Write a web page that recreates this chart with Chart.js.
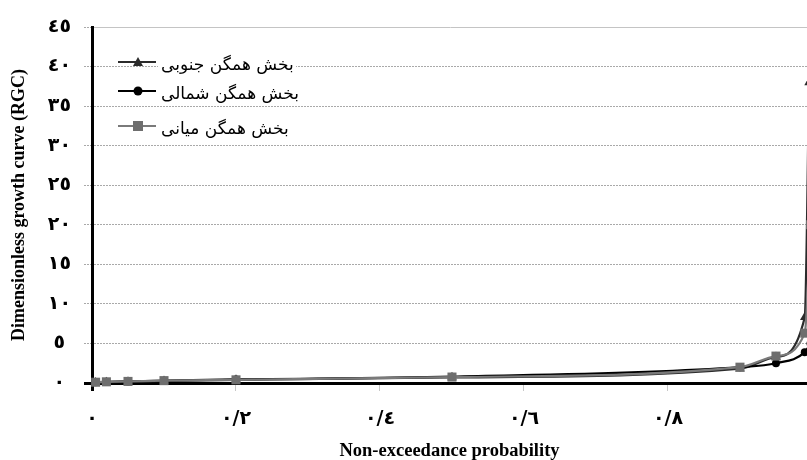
<!DOCTYPE html>
<html>
<head>
<meta charset="utf-8">
<script src="https://cdn.jsdelivr.net/npm/chart.js@4.4.1/dist/chart.umd.min.js"></script>
<style>
  html, body { margin: 0; padding: 0; background: #fff; overflow: hidden; }
  #wrap { width: 807px; height: 460px; }
</style>
</head>
<body>
<div id="wrap"><canvas id="c" width="807" height="460"></canvas></div>
<script>
// Regional growth curves (RGC) for the three homogeneous regions
const seriesNames = ['بخش همگن جنوبی', 'بخش همگن شمالی', 'بخش همگن میانی'];

const southProb = [0.005, 0.02, 0.05, 0.1, 0.2, 0.5, 0.9, 0.95, 0.99, 0.996];
const southRGC  = [0.05, 0.1, 0.15, 0.25, 0.4, 0.7, 1.8, 3.3, 8.3, 38];

const northProb = [0.005, 0.02, 0.05, 0.1, 0.2, 0.5, 0.9, 0.95, 0.99, 0.998];
const northRGC  = [0.1, 0.15, 0.2, 0.3, 0.45, 0.8, 2.0, 2.5, 3.9, 5];

const middleProb = [0.005, 0.02, 0.05, 0.1, 0.2, 0.5, 0.9, 0.95, 0.99, 0.998];
const middleRGC  = [0.1, 0.15, 0.2, 0.3, 0.4, 0.75, 2.0, 3.4, 6.3, 20];

const xTickValues = [0, 0.2, 0.4, 0.6, 0.8];
const yTickValues = [0, 5, 10, 15, 20, 25, 30, 35, 40, 45];
const xVisibleMax = 0.9931;   // the frame ends just short of p = 1

const xTitle = 'Non-exceedance probability';
const yTitle = 'Dimensionless growth curve (RGC)';

const ARABIC_DIGITS = '٠١٢٣٤٥٦٧٨٩';
const toArabic = s => String(s).replace(/[0-9]/g, d => ARABIC_DIGITS[d]);
const probLabel = v => v === 0 ? '٠' : toArabic((Math.round(v * 10) / 10).toFixed(1)).replace('.', '/');

const pts = (xs, ys) => xs.map((x, i) => ({ x, y: ys[i] }));

// Inset legend: line sample with marker, then the Persian label
const insetLegend = {
  id: 'insetLegend',
  afterDatasetsDraw(chart) {
    const ctx = chart.ctx;
    const rows = [62, 91, 126];
    ctx.save();
    seriesNames.forEach((name, i) => {
      const ds = chart.data.datasets.find(d => d.label === name);
      const y = rows[i];
      ctx.fillStyle = '#fff';
      ctx.fillRect(158, y - 10, 138, 20);
      ctx.strokeStyle = ds.borderColor;
      ctx.lineWidth = 2;
      ctx.beginPath();
      ctx.moveTo(118, y);
      ctx.lineTo(156, y);
      ctx.stroke();
      ctx.fillStyle = ds.pointBackgroundColor;
      const cx = 138;
      ctx.beginPath();
      if (ds.pointStyle === 'triangle') {
        ctx.moveTo(cx - 5, y + 4);
        ctx.lineTo(cx + 5, y + 4);
        ctx.lineTo(cx, y - 5);
        ctx.closePath();
      } else if (ds.pointStyle === 'rect') {
        ctx.rect(cx - 5, y - 5, 10, 10);
      } else {
        ctx.arc(cx, y, 4.5, 0, Math.PI * 2);
      }
      ctx.fill();
      ctx.fillStyle = '#000';
      ctx.font = '17px "DejaVu Sans"';
      ctx.textBaseline = 'middle';
      ctx.direction = 'rtl';
      ctx.textAlign = 'right';
      const w = ctx.measureText(name).width;
      ctx.fillText(name, 161 + w, y + 4);
    });
    ctx.restore();
  }
};

const common = {
  borderWidth: 2.2,
  cubicInterpolationMode: 'monotone',
  pointBorderWidth: 0,
  clip: false
};

new Chart(document.getElementById('c'), {
  type: 'line',
  data: {
    datasets: [
      Object.assign({
        label: seriesNames[2],
        data: pts(middleProb, middleRGC),
        borderColor: '#7a7a7a',
        backgroundColor: '#6e6e6e',
        pointBackgroundColor: '#6e6e6e',
        pointBorderColor: '#6e6e6e',
        pointStyle: 'rect',
        pointRadius: 6.4
      }, common),
      Object.assign({
        label: seriesNames[1],
        data: pts(northProb, northRGC),
        borderColor: '#000',
        backgroundColor: '#000',
        pointBackgroundColor: '#000',
        pointBorderColor: '#000',
        pointStyle: 'circle',
        pointRadius: 4
      }, common),
      Object.assign({
        label: seriesNames[0],
        data: pts(southProb, southRGC),
        borderColor: '#2b2b2b',
        backgroundColor: '#2b2b2b',
        pointBackgroundColor: '#2b2b2b',
        pointBorderColor: '#2b2b2b',
        pointStyle: 'triangle',
        pointRadius: 5.5
      }, common)
    ]
  },
  options: {
    responsive: false,
    animation: false,
    layout: { autoPadding: false, padding: { left: 0, right: 0, top: 27, bottom: 0 } },
    plugins: { legend: { display: false }, tooltip: { enabled: false } },
    scales: {
      x: {
        type: 'linear',
        min: 0, max: xVisibleMax,
        afterBuildTicks: s => { s.ticks = xTickValues.map(v => ({ value: v })); },
        afterFit: s => { s.height = 77; },
        ticks: {
          callback: v => probLabel(v),
          font: { family: '"DejaVu Sans"', size: 19, weight: 'bold' },
          color: '#000',
          padding: 17,
          maxRotation: 0
        },
        grid: {
          drawOnChartArea: false,
          drawTicks: true,
          tickLength: 8,
          tickColor: c => c.tick && c.tick.value === 0 ? '#000' : '#c8c8c8',
          tickWidth: c => c.tick && c.tick.value === 0 ? 3 : 1
        },
        border: { display: true, color: '#000', width: 3 },
        title: {
          display: true,
          text: xTitle,
          color: '#000',
          font: { family: '"Liberation Serif"', size: 18.5, weight: 'bold', lineHeight: 1 },
          padding: 0
        }
      },
      y: {
        type: 'linear',
        min: 0, max: 45,
        afterBuildTicks: s => { s.ticks = yTickValues.map(v => ({ value: v })); },
        afterFit: s => { s.width = 92; },
        ticks: {
          callback: v => toArabic(v),
          font: { family: '"DejaVu Sans"', size: 19, weight: 'bold' },
          color: '#000',
          crossAlign: 'center',
          padding: 13
        },
        grid: {
          drawTicks: true,
          tickLength: 8,
          color: c => c.tick && c.tick.value === 0 ? 'rgba(0,0,0,0)' : (c.tick && c.tick.value === 45 ? '#c4c4c4' : '#a9a9a9'),
          tickColor: c => c.tick && c.tick.value === 0 ? '#000' : '#a9a9a9',
          tickWidth: c => c.tick && c.tick.value === 0 ? 3 : 1,
          tickBorderDash: c => c.tick && c.tick.value === 0 ? [] : [2, 1],
          lineWidth: 1
        },
        border: {
          display: true, color: '#000', width: 3,
          dash: c => c.tick && (c.tick.value === 45 || c.tick.value === 0) ? [] : [2, 1]
        },
        title: {
          display: true,
          text: yTitle,
          color: '#000',
          font: { family: '"Liberation Serif"', size: 18, weight: 'bold', lineHeight: 1.2 },
          padding: { top: 9, bottom: 0 }
        }
      }
    }
  },
  plugins: [insetLegend]
});
</script>
</body>
</html>
